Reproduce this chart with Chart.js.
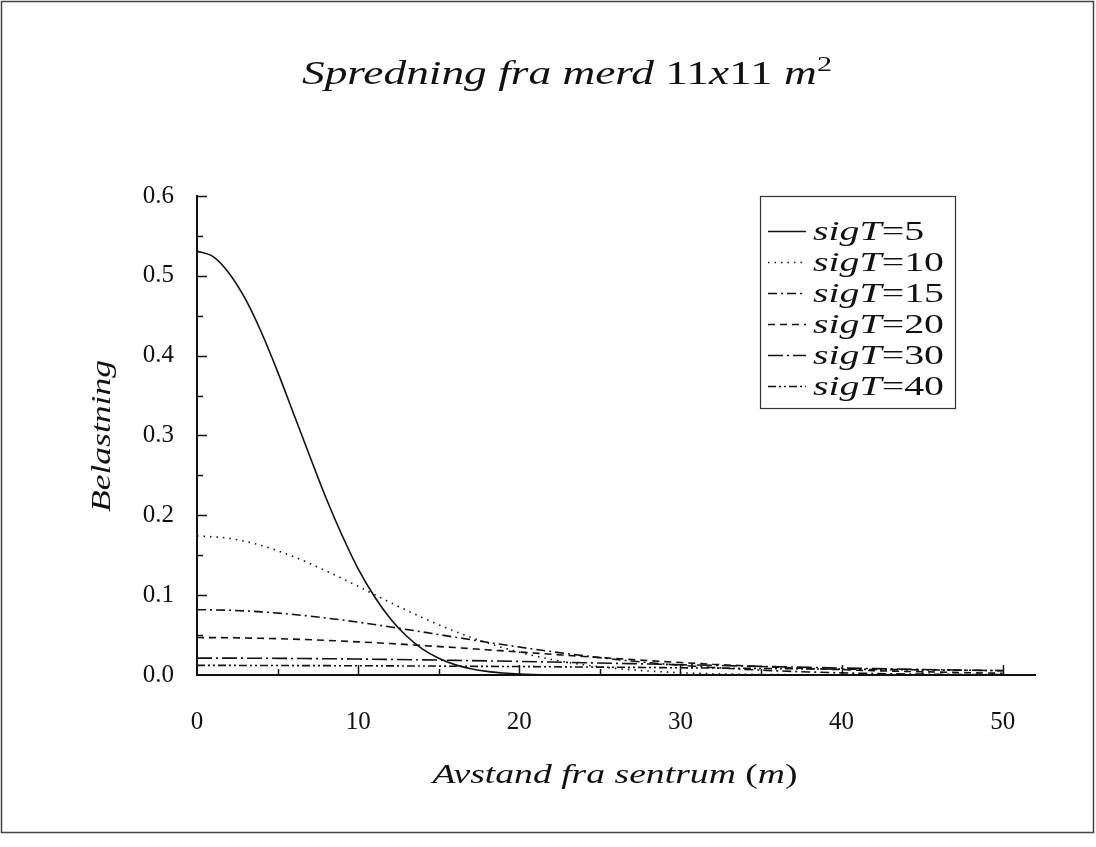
<!DOCTYPE html>
<html>
<head>
<meta charset="UTF-8">
<title>Spredning fra merd 11x11 m2</title>
<script src="https://cdn.jsdelivr.net/npm/chart.js"></script>
<style>
  html, body { margin: 0; padding: 0; background: #fff; }
  #wrap { position: relative; width: 1096px; height: 847px; }
</style>
</head>
<body>
<div id="wrap"><canvas id="c" width="1096" height="847"></canvas></div>
<script>
// avstand fra sentrum (m): every 2 m, the steep sigT=5 curve every 1 m up to 20 m
const avstand = [0, 2, 4, 6, 8, 10, 12, 14, 16, 18, 20, 22, 24, 26, 28, 30, 32, 34, 36, 38, 40, 42, 44, 46, 48, 50];
const avstand5 = [0, 1, 2, 3, 4, 5, 6, 7, 8, 9, 10, 11, 12, 13, 14, 15, 16, 17, 18, 19, 20,
                  22, 24, 26, 28, 30, 32, 34, 36, 38, 40, 42, 44, 46, 48, 50];

const sigT5  = [0.531, 0.524, 0.503, 0.471, 0.429, 0.380, 0.327, 0.274, 0.222, 0.175, 0.133,
                0.0986, 0.0705, 0.0489, 0.0325, 0.0211, 0.0130, 0.0079, 0.0045, 0.0025, 0.0013,
                0.0003, 0.0001, 0, 0, 0, 0, 0, 0, 0, 0, 0, 0, 0, 0, 0];
const sigT10 = [0.1743, 0.1712, 0.1622, 0.1482, 0.1305, 0.1110, 0.0908, 0.0718, 0.0547, 0.0402, 0.0286, 0.0195, 0.0128,
                0.0082, 0.0050, 0.0029, 0.0016, 0.0009, 0.0005, 0.0002, 0.0001, 0, 0, 0, 0, 0];
const sigT15 = [0.0818, 0.0811, 0.0791, 0.0758, 0.0714, 0.0662, 0.0602, 0.0539, 0.0474, 0.0411, 0.0350, 0.0293, 0.0241,
                0.0195, 0.0155, 0.0122, 0.0094, 0.0071, 0.0052, 0.0038, 0.0027, 0.0019, 0.0013, 0.0009, 0.0006, 0.0004];
const sigT20 = [0.0469, 0.0467, 0.0460, 0.0449, 0.0434, 0.0415, 0.0394, 0.0369, 0.0344, 0.0316, 0.0288, 0.0260, 0.0232,
                0.0206, 0.0180, 0.0156, 0.0134, 0.0115, 0.0097, 0.0081, 0.0067, 0.0054, 0.0045, 0.0036, 0.0028, 0.0022];
const sigT30 = [0.0211, 0.0211, 0.0210, 0.0207, 0.0204, 0.0200, 0.0195, 0.0190, 0.0183, 0.0177, 0.0170, 0.0162, 0.0154,
                0.0146, 0.0138, 0.0129, 0.0121, 0.0112, 0.0104, 0.0095, 0.0087, 0.0080, 0.0073, 0.0066, 0.0059, 0.0054];
const sigT40 = [0.0120, 0.0120, 0.0119, 0.0118, 0.0117, 0.0116, 0.0114, 0.0113, 0.0110, 0.0108, 0.0106, 0.0103, 0.0100,
                0.0097, 0.0094, 0.0090, 0.0087, 0.0084, 0.0080, 0.0076, 0.0073, 0.0069, 0.0066, 0.0062, 0.0059, 0.0055];

const sigLabels = ['5', '10', '15', '20', '30', '40'];
const series = [sigT5, sigT10, sigT15, sigT20, sigT30, sigT40];
const xLists = [avstand5, avstand, avstand, avstand, avstand, avstand];
const dashes = [[], [1.5, 5], [9, 4, 2, 4], [7, 5], [15, 4, 2, 4], [8, 3, 2, 3, 2, 3]];

const xTickStep = 10, xMinorStep = 5, xMax = 52;
const yTickStep = 0.1, yMinorStep = 0.05, yMax = 0.6;

const INK = '#111';
const SERIF = '"Liberation Serif", "DejaVu Serif", serif';

function fontOf(r, size) {
  return (r.it ? 'italic ' : '') + (r.sz || size) + 'px ' + SERIF;
}

// total natural width of a run of text pieces
function runWidth(ctx, runs, size) {
  let w = 0;
  runs.forEach(r => { ctx.font = fontOf(r, size); r.w = ctx.measureText(r.t).width; w += r.w; });
  return w;
}

// draw a run of text pieces (italic / upright), stretched horizontally by sx
function drawRuns(ctx, runs, x, y, align, sx, size) {
  const w = runWidth(ctx, runs, size);
  ctx.save();
  ctx.translate(x, y);
  ctx.scale(sx, 1);
  let cx = align === 'center' ? -w / 2 : 0;
  ctx.textAlign = 'left';
  ctx.textBaseline = 'alphabetic';
  runs.forEach(r => {
    ctx.font = fontOf(r, size);
    ctx.fillText(r.t, cx, r.dy || 0);
    cx += r.w;
  });
  ctx.restore();
}

function drawFit(ctx, runs, x, y, align, target, size) {
  drawRuns(ctx, runs, x, y, align, target / runWidth(ctx, runs, size), size);
}

const decor = {
  id: 'decor',
  beforeDraw(chart) {
    const ctx = chart.ctx;
    ctx.save();
    ctx.fillStyle = '#fff';
    ctx.fillRect(0, 0, chart.width, chart.height);
    ctx.strokeStyle = '#444';
    ctx.lineWidth = 1.5;
    ctx.strokeRect(1.5, 1.5, 1092, 831);
    ctx.restore();
  },
  afterDraw(chart) {
    const ctx = chart.ctx;
    const xs = chart.scales.x, ys = chart.scales.y;
    const area = chart.chartArea;
    ctx.save();
    ctx.strokeStyle = INK;
    ctx.lineWidth = 1.5;
    ctx.setLineDash([]);
    // inward ticks
    for (let k = 1; k * yMinorStep <= yMax + 1e-9; k++) {
      const py = Math.round(ys.getPixelForValue(k * yMinorStep)) + 0.5;
      const len = k % 2 === 0 ? 10 : 6;
      ctx.beginPath(); ctx.moveTo(area.left, py); ctx.lineTo(area.left + len, py); ctx.stroke();
    }
    for (let k = 1; k * xMinorStep <= 50; k++) {
      const px = Math.round(xs.getPixelForValue(k * xMinorStep)) + 0.5;
      const len = k % 2 === 0 ? 10 : 6;
      ctx.beginPath(); ctx.moveTo(px, area.bottom); ctx.lineTo(px, area.bottom - len); ctx.stroke();
    }

    ctx.fillStyle = INK;
    // title
    drawFit(ctx, [
      { t: 'Spredning fra merd ', it: true },
      { t: '11' }, { t: 'x', it: true }, { t: '11 ' },
      { t: 'm', it: true }, { t: '2', sz: 22, dy: -13 }
    ], 567, 84, 'center', 530, 33);
    // x axis title
    drawFit(ctx, [
      { t: 'Avstand fra sentrum ', it: true }, { t: '(' }, { t: 'm', it: true }, { t: ')' }
    ], 615, 783, 'center', 365, 27);
    // y axis title
    ctx.save();
    ctx.translate(110, 436);
    ctx.rotate(-Math.PI / 2);
    drawFit(ctx, [{ t: 'Belastning', it: true }], 0, 0, 'center', 152, 27);
    ctx.restore();

    // legend box
    const lx = 760, ly = 196, lw = 195, lh = 212;
    ctx.lineWidth = 1.2;
    ctx.strokeStyle = '#333';
    ctx.strokeRect(lx + 0.5, ly + 0.5, lw, lh);
    const legSize = 27;
    const legSx = 131 / runWidth(ctx, [{ t: 'sigT', it: true }, { t: '=10' }], legSize);
    chart.data.datasets.forEach((ds, i) => {
      const cy = 231 + i * 31;
      ctx.save();
      ctx.strokeStyle = INK;
      ctx.lineWidth = ds.borderWidth;
      ctx.setLineDash(ds.borderDash || []);
      ctx.beginPath(); ctx.moveTo(768, cy + 0.5); ctx.lineTo(806, cy + 0.5); ctx.stroke();
      ctx.restore();
      drawRuns(ctx, [{ t: 'sigT', it: true }, { t: '=' + sigLabels[i] }], 813, cy + 9, 'left', legSx, legSize);
    });
    ctx.restore();
  }
};

const datasets = series.map((vals, i) => ({
  label: 'sigT=' + sigLabels[i],
  data: xLists[i].map((x, j) => ({ x: x, y: vals[j] })),
  borderColor: INK,
  borderWidth: 1.6,
  borderDash: dashes[i],
  pointRadius: 0,
  fill: false,
  cubicInterpolationMode: 'monotone'
}));

new Chart(document.getElementById('c'), {
  type: 'line',
  data: { datasets: datasets },
  options: {
    responsive: false,
    animation: false,
    layout: { padding: { left: 0, top: 196, right: 61, bottom: 0 } },
    plugins: { legend: { display: false }, title: { display: false }, tooltip: { enabled: false } },
    scales: {
      x: {
        type: 'linear', min: 0, max: xMax,
        grid: { display: false },
        border: { display: true, width: 2, color: INK },
        ticks: { stepSize: xTickStep, includeBounds: false, padding: 24, color: INK,
                 font: { family: SERIF, size: 25 } },
        afterFit(s) { s.height = 172; }
      },
      y: {
        type: 'linear', min: 0, max: yMax,
        grid: { display: false },
        border: { display: true, width: 2, color: INK },
        ticks: { stepSize: yTickStep, padding: 15, color: INK,
                 font: { family: SERIF, size: 25 },
                 callback: v => v.toFixed(1) },
        afterFit(s) { s.width = 197; }
      }
    }
  },
  plugins: [decor]
});
</script>
</body>
</html>
